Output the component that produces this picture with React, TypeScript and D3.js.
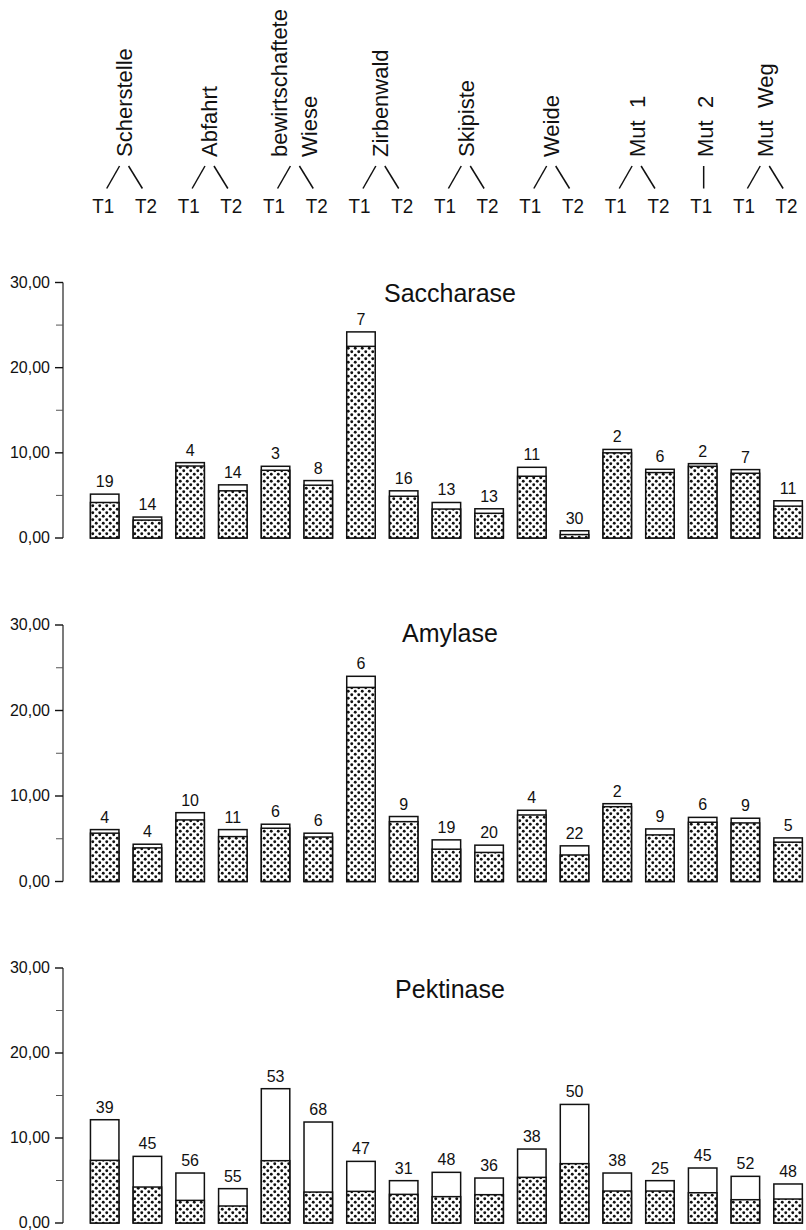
import React from 'react';
import * as d3 from 'd3';

// ---- header categories ----
const groupLabels: string[][] = [
  ['Scherstelle'],
  ['Abfahrt'],
  ['bewirtschaftete', 'Wiese'],
  ['Zirbenwald'],
  ['Skipiste'],
  ['Weide'],
  ['Mut  1'],
  ['Mut  2'],
  ['Mut  Weg'],
];
const groupSamples: string[][] = [
  ['T1', 'T2'], ['T1', 'T2'], ['T1', 'T2'], ['T1', 'T2'], ['T1', 'T2'],
  ['T1', 'T2'], ['T1', 'T2'], ['T1'], ['T1', 'T2'],
];

// ---- axis ----
const yMajorTicks = [0, 10, 20, 30];
const yMinorTicks = [5, 15, 25];
const yTickLabels = ['0,00', '10,00', '20,00', '30,00'];

// ---- Saccharase ----
const saccharaseTotal = [5.15, 2.46, 8.85, 6.24, 8.42, 6.74, 24.2, 5.54, 4.17, 3.43, 8.3, 0.85, 10.4, 8.07, 8.73, 8.03, 4.37];
const saccharaseDotted = [4.17, 2.1, 8.45, 5.54, 7.95, 6.2, 22.5, 4.9, 3.4, 2.9, 7.25, 0.4, 10.0, 7.68, 8.42, 7.6, 3.74];
const saccharaseLabels = [19, 14, 4, 14, 3, 8, 7, 16, 13, 13, 11, 30, 2, 6, 2, 7, 11];

// ---- Amylase ----
const amylaseTotal = [6.07, 4.36, 8.05, 6.07, 6.7, 5.65, 24.0, 7.6, 4.87, 4.25, 8.33, 4.17, 9.1, 6.15, 7.5, 7.4, 5.1];
const amylaseDotted = [5.65, 3.93, 7.2, 5.25, 6.23, 5.2, 22.7, 7.0, 3.78, 3.4, 7.78, 3.1, 8.75, 5.45, 6.93, 6.85, 4.6];
const amylaseLabels = [4, 4, 10, 11, 6, 6, 6, 9, 19, 20, 4, 22, 2, 9, 6, 9, 5];

// ---- Pektinase ----
const pektinaseTotal = [12.15, 7.84, 5.88, 4.04, 15.8, 11.88, 7.25, 4.98, 5.96, 5.29, 8.7, 13.95, 5.88, 4.98, 6.47, 5.49, 4.59];
const pektinaseDotted = [7.37, 4.23, 2.66, 2.0, 7.33, 3.64, 3.72, 3.37, 3.1, 3.33, 5.37, 6.98, 3.76, 3.76, 3.56, 2.74, 2.82];
const pektinaseLabels = [39, 45, 56, 55, 53, 68, 47, 31, 48, 36, 38, 50, 38, 25, 45, 52, 48];

const FONT = "'Liberation Sans', Arial, Helvetica, sans-serif";
const INK = '#111';

export default function App() {
  const W = 806;
  const H = 1230;
  const n = saccharaseTotal.length;

  const x = d3
    .scaleBand<number>()
    .domain(d3.range(n))
    .range([69.1, 823.7])
    .paddingInner(0.333)
    .paddingOuter(0.5);
  const bw = x.bandwidth();
  const cx = (i: number) => (x(i) as number) + bw / 2;

  let counter = 0;
  const groups = groupLabels.map((lab, g) => {
    const members = groupSamples[g].map((s) => ({ s, i: counter++ }));
    return { lab, members };
  });

  const panels = [
    { title: 'Saccharase', total: saccharaseTotal, dotted: saccharaseDotted, labels: saccharaseLabels, base: 538, top: 282.5, titleY: 302 },
    { title: 'Amylase', total: amylaseTotal, dotted: amylaseDotted, labels: amylaseLabels, base: 881.5, top: 625, titleY: 642 },
    { title: 'Pektinase', total: pektinaseTotal, dotted: pektinaseDotted, labels: pektinaseLabels, base: 1223, top: 968, titleY: 998 },
  ];

  return (
    <div style={{ position: 'absolute', left: 0, top: 0 }}>
      <svg width={W} height={H} viewBox={`0 0 ${W} ${H}`} style={{ display: 'block', fontFamily: FONT }}>
        <defs>
          <pattern id="dots" width={7} height={7} patternUnits="userSpaceOnUse">
            <rect width={7} height={7} fill="#fff" />
            <circle cx={1.75} cy={1.75} r={1.45} fill={INK} />
            <circle cx={5.25} cy={5.25} r={1.45} fill={INK} />
          </pattern>
        </defs>
        <rect width={W} height={H} fill="#fff" />

        {/* header */}
        <g>
          {groups.map((gr, gi) => {
            const mid = d3.mean(gr.members, (m) => cx(m.i)) as number;
            const single = gr.members.length === 1;
            const textEls =
              gr.lab.length === 1
                ? [{ t: gr.lab[0], bx: single ? mid + 10 : mid + 6 }]
                : [
                    { t: gr.lab[0], bx: mid - 9.5 },
                    { t: gr.lab[1], bx: mid + 20.5 },
                  ];
            return (
              <g key={gi}>
                {textEls.map((te, k) => (
                  <text
                    key={k}
                    transform={`translate(${te.bx},157) rotate(-90)`}
                    fontSize={22}
                    fill={INK}
                    style={{ whiteSpace: 'pre' }}
                  >
                    {te.t}
                  </text>
                ))}
                {single ? (
                  <line x1={cx(gr.members[0].i) + 1} x2={cx(gr.members[0].i) + 1} y1={166} y2={188.5} stroke={INK} strokeWidth={1.5} />
                ) : (
                  <>
                    <line x1={mid - 6.5} y1={166} x2={cx(gr.members[0].i) + 2} y2={188.5} stroke={INK} strokeWidth={1.5} />
                    <line x1={mid + 2.5} y1={166} x2={cx(gr.members[1].i) - 5} y2={188.5} stroke={INK} strokeWidth={1.5} />
                  </>
                )}
                {gr.members.map((m) => (
                  <text
                    key={m.i}
                    x={cx(m.i) - 1.5}
                    y={213}
                    fontSize={21}
                    textAnchor="middle"
                    textLength={22}
                    lengthAdjust="spacingAndGlyphs"
                    fill={INK}
                  >
                    {m.s}
                  </text>
                ))}
              </g>
            );
          })}
        </g>

        {/* panels */}
        {panels.map((p, pi) => {
          const y = d3.scaleLinear().domain([0, 30]).range([p.base, p.top]);
          return (
            <g key={pi}>
              <line x1={63} x2={63} y1={y(30)} y2={y(0)} stroke="#222" strokeWidth={1.2} />
              {yMajorTicks.map((t, k) => (
                <g key={`M${k}`}>
                  <line x1={55} x2={63} y1={y(t)} y2={y(t)} stroke={INK} strokeWidth={1.4} />
                  <text x={50} y={y(t) + 5.3} fontSize={16} textAnchor="end" fill={INK}>
                    {yTickLabels[k]}
                  </text>
                </g>
              ))}
              {yMinorTicks.map((t, k) => (
                <line key={`m${k}`} x1={56} x2={63} y1={y(t)} y2={y(t)} stroke="#555" strokeWidth={1} />
              ))}
              <text x={450} y={p.titleY} fontSize={25} textAnchor="middle" fill={INK}>
                {p.title}
              </text>
              {p.total.map((v, i) => (
                <g key={i}>
                  <rect x={x(i)} y={y(v)} width={bw} height={y(0) - y(v)} fill="#fff" stroke={INK} strokeWidth={1.5} />
                  <rect
                    x={x(i)}
                    y={y(p.dotted[i])}
                    width={bw}
                    height={y(0) - y(p.dotted[i])}
                    fill="url(#dots)"
                    stroke={INK}
                    strokeWidth={1.5}
                  />
                  <text x={cx(i)} y={y(v) - 7} fontSize={16} textAnchor="middle" fill={INK}>
                    {p.labels[i]}
                  </text>
                </g>
              ))}
            </g>
          );
        })}
      </svg>
    </div>
  );
}
